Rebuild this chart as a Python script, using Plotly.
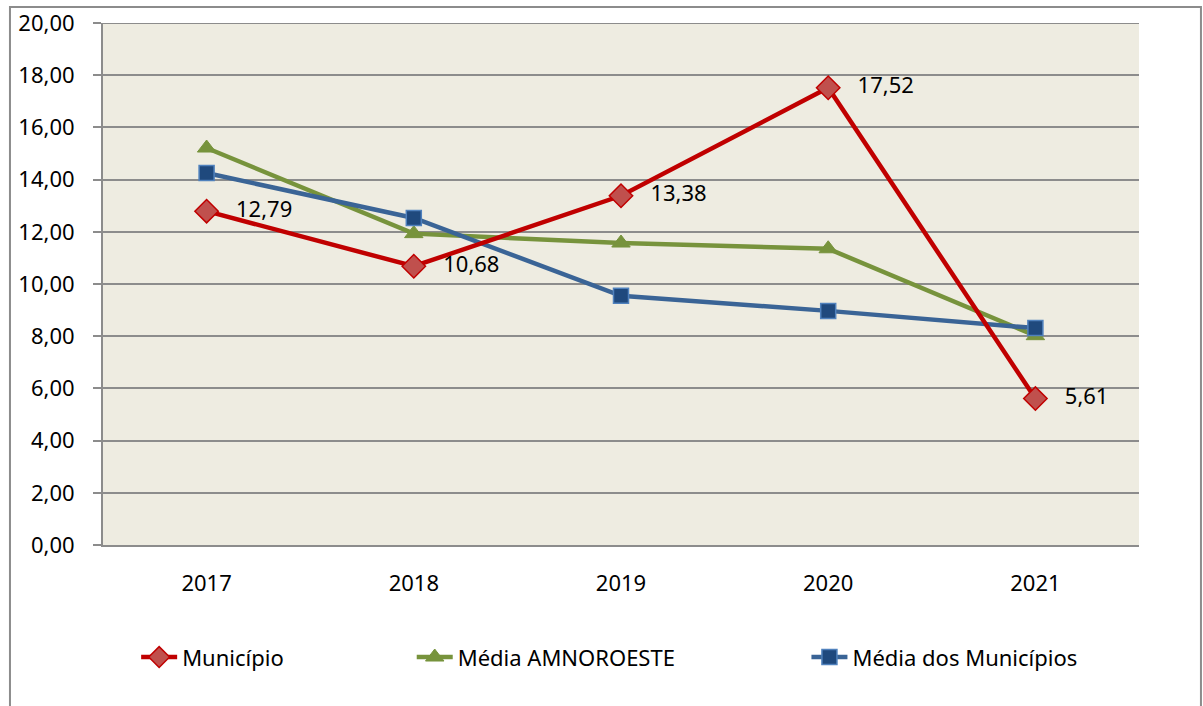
import plotly.graph_objects as go

years = ["2017", "2018", "2019", "2020", "2021"]
municipio = [12.79, 10.68, 13.38, 17.52, 5.61]
media_amnoroeste = [15.21, 11.93, 11.57, 11.35, 8.02]
media_municipios = [14.25, 12.53, 9.55, 8.97, 8.31]
y_ticks = [0, 2, 4, 6, 8, 10, 12, 14, 16, 18, 20]

FONT = "Noto Sans"

fig = go.Figure()

fig.add_trace(go.Scatter(
    x=years, y=media_amnoroeste, name="Média AMNOROESTE", mode="lines+markers",
    line=dict(color="#77933C", width=4.5),
    marker=dict(symbol="triangle-up", size=16, color="#77933C", line=dict(color="#77933C", width=1)),
    legend="legend2",
))
fig.add_trace(go.Scatter(
    x=years, y=media_municipios, name="Média dos Municípios", mode="lines+markers",
    line=dict(color="#3A6496", width=4.5),
    marker=dict(symbol="square", size=15, color="#1F497D", line=dict(color="#4F81BD", width=1.5)),
    legend="legend3",
))
fig.add_trace(go.Scatter(
    x=years, y=municipio, name="Município", mode="lines+markers+text",
    text=["   " + f"{v:.2f}".replace(".", ",") for v in municipio],
    textposition="middle right",
    textfont=dict(family=FONT, size=22, color="#000000"),
    line=dict(color="#C00000", width=4.5),
    marker=dict(symbol="diamond", size=18, color="#C0504D", line=dict(color="#C00000", width=1.5)),
    legend="legend4",
))

# outer frame
fig.add_shape(type="rect", xref="paper", yref="paper",
              x0=-0.0898, x1=1.0598, y0=-0.6, y1=1.0307,
              line=dict(color="#8C8C8C", width=2), fillcolor="rgba(0,0,0,0)", layer="below")
# top gridline (Plotly drops the gridline lying exactly on the plot edge)
fig.add_shape(type="line", xref="paper", yref="y", x0=0, x1=1,
              y0=y_ticks[-1], y1=y_ticks[-1],
              line=dict(color="#8C8C8C", width=2), layer="below")

legend_common = dict(orientation="h", yanchor="middle", xanchor="left",
                     bgcolor="rgba(0,0,0,0)", itemwidth=36,
                     font=dict(family=FONT, size=22, color="#000000"))

fig.update_layout(
    width=1203, height=706,
    margin=dict(l=103, r=64, t=23, b=161, autoexpand=False),
    paper_bgcolor="white",
    plot_bgcolor="#EEECE1",
    separators=",.",
    showlegend=True,
    font=dict(family=FONT, size=22, color="#000000"),
    legend4=dict(x=0.032, y=-0.215, **legend_common),
    legend2=dict(x=0.298, y=-0.215, **legend_common),
    legend3=dict(x=0.679, y=-0.215, **legend_common),
    xaxis=dict(
        type="category", range=[-0.5, 4.5], showgrid=False, automargin=False,
        showline=True, linecolor="#8C8C8C", linewidth=2,
        ticks="", tickfont=dict(family=FONT, size=22), ticklabelstandoff=18,
    ),
    yaxis=dict(
        range=[0, 20], tickvals=y_ticks, tickformat=".2f", automargin=False,
        showgrid=True, gridcolor="#8C8C8C", gridwidth=2,
        showline=True, linecolor="#8C8C8C", linewidth=2,
        ticks="outside", ticklen=8, tickcolor="#8C8C8C", tickwidth=2,
        tickfont=dict(family=FONT, size=22), zeroline=False, ticklabelstandoff=14,
        ticklabeloverflow="allow",
    ),
)

fig.write_html("out.html", config={"displayModeBar": False},
               post_script="document.body.style.margin='0';")
